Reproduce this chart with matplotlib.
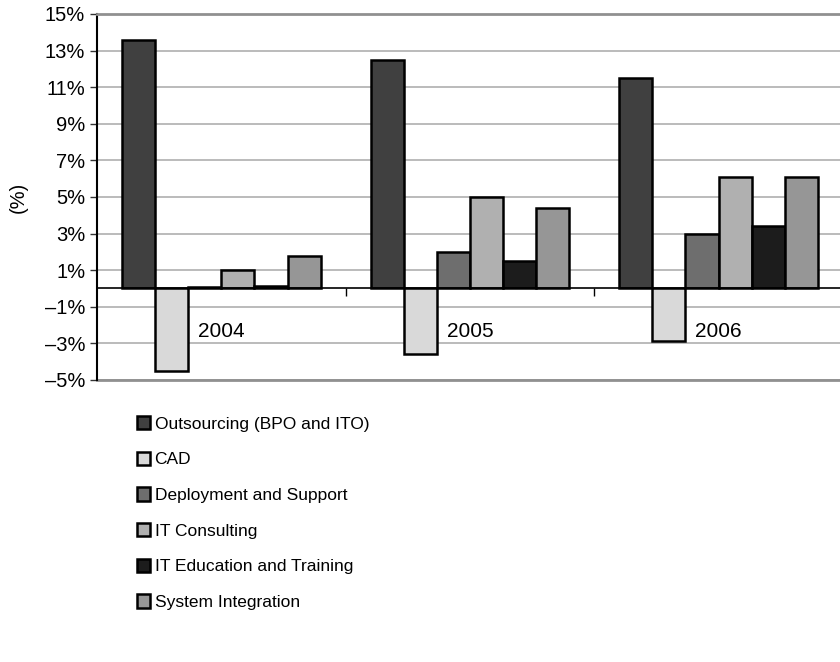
import matplotlib.pyplot as plt
from matplotlib.ticker import FuncFormatter
import numpy as np

years = ["2004", "2005", "2006"]
segments = ["Outsourcing (BPO and ITO)", "CAD", "Deployment and Support",
            "IT Consulting", "IT Education and Training", "System Integration"]
outsourcing = [13.6, 12.5, 11.5]
cad = [-4.5, -3.6, -2.85]
deployment = [0.1, 2.0, 3.0]
consulting = [1.0, 5.0, 6.1]
education = [0.15, 1.5, 3.4]
integration = [1.75, 4.4, 6.1]
colors = ["#404040", "#d9d9d9", "#6e6e6e", "#b0b0b0", "#1c1c1c", "#969696"]

plt.rcParams['font.family'] = ['Liberation Sans', 'DejaVu Sans']

fig = plt.figure(figsize=(8.4, 6.62), dpi=100)
ax = fig.add_axes([0.1155, 0.426, 0.888, 0.553])

series = [outsourcing, cad, deployment, consulting, education, integration]
x = np.arange(len(years))
w = 0.8 / len(series)
handles = []
for i, (vals, col, name) in enumerate(zip(series, colors, segments)):
    b = ax.bar(x - 0.4 + w * (i + 0.5), vals, w, color=col, edgecolor="black",
               linewidth=1.8, label=name, zorder=3)
    handles.append(b)

ax.set_xlim(-0.5, 2.5)
ax.set_ylim(-5, 15)
ax.set_yticks(range(-5, 16, 2))
ax.yaxis.set_major_formatter(FuncFormatter(
    lambda v, p: f"{int(v)}%" if v >= 0 else f"\u2013{int(-v)}%"))
ax.grid(axis="y", color="#a8a8a8", linewidth=1.1, zorder=0)
ax.tick_params(axis="y", direction="out", length=5, width=1, labelsize=14.5,
               color="#333333")

# category axis drawn at zero
ax.spines["bottom"].set_position(("data", 0))
ax.spines["bottom"].set_linewidth(1.2)
ax.spines["bottom"].set_zorder(4)
ax.spines["left"].set_linewidth(1.5)
ax.spines["top"].set_color("#909090")
ax.spines["top"].set_linewidth(2)
ax.spines["right"].set_visible(False)
ax.axhline(-5, color="#909090", linewidth=2, clip_on=False)
ax.set_xticks(x)
ax.set_xticklabels(years)
ax.set_xticks([0.5, 1.5], minor=True)
ax.tick_params(axis="x", which="major", length=0, pad=24, labelsize=15)
ax.tick_params(axis="x", which="minor", length=6, width=1, direction="out")

ax.set_ylabel("(%)", fontsize=14.5, labelpad=12)

fig.legend(handles=handles, labels=segments, loc="upper left",
           bbox_to_anchor=(0.155, 0.382), frameon=False, fontsize=12.5,
           handlelength=0.75, handleheight=0.8, handletextpad=0.25,
           labelspacing=1.15, borderaxespad=0)

fig.savefig("out.png", dpi=100)
